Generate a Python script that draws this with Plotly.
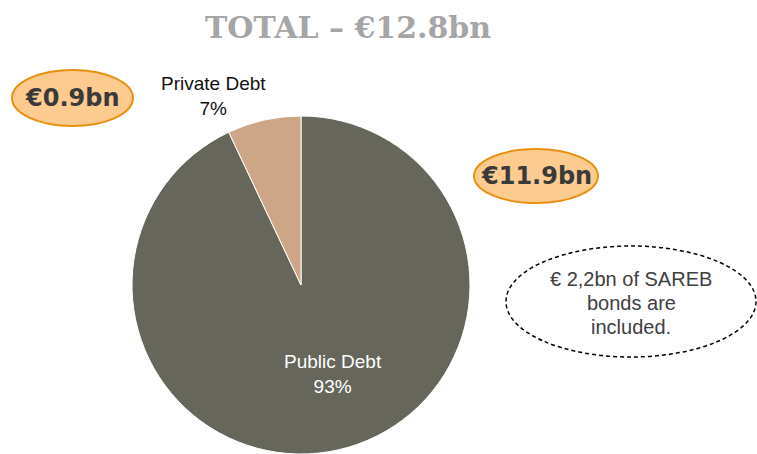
import plotly.graph_objects as go

W, H = 757, 454

# Data
categories = ["Public Debt", "Private Debt"]
values_bn = [11.9, 0.9]
total_bn = 12.8
percent_labels = ["93%", "7%"]
colors = ["#66665B", "#CDA587"]
note_lines = ["€ 2,2bn of SAREB", "bonds are", "included."]

def px(x):
    return x / W

def py(y):
    return 1 - y / H

fig = go.Figure()
fig.add_trace(go.Pie(
    labels=categories,
    values=values_bn,
    sort=False,
    direction="clockwise",
    rotation=0,
    textinfo="none",
    hoverinfo="label+percent",
    marker=dict(colors=colors, line=dict(color="white", width=1)),
    domain=dict(x=[px(132), px(470)], y=[0, py(116)]),
    showlegend=False,
))

shapes = [
    dict(type="circle", xref="paper", yref="paper",
         x0=px(12), x1=px(133), y0=py(126), y1=py(70),
         fillcolor="#FDCB8F", line=dict(color="#E8900F", width=2), layer="below"),
    dict(type="circle", xref="paper", yref="paper",
         x0=px(474), x1=px(598), y0=py(203), y1=py(149),
         fillcolor="#FDCB8F", line=dict(color="#E8900F", width=2), layer="below"),
    dict(type="circle", xref="paper", yref="paper",
         x0=px(506), x1=px(756), y0=py(357), y1=py(246),
         fillcolor="rgba(0,0,0,0)", line=dict(color="#000000", width=1.5, dash="4px,3px")),
]

lab_font = dict(family="Liberation Sans, Arial", size=19)
annotations = [
    dict(x=px(348), y=py(27), text=f"TOTAL – €{total_bn}bn", showarrow=False,
         xref="paper", yref="paper", xanchor="center", yanchor="middle",
         font=dict(family="DejaVu Serif", size=30, color="#A6A6A6", weight="bold")),
    dict(x=px(213), y=py(96), text=f"{categories[1]}<br>{percent_labels[1]}", showarrow=False,
         xref="paper", yref="paper", xanchor="center", yanchor="middle",
         font=dict(color="#111111", **lab_font)),
    dict(x=px(333), y=py(374), text=f"{categories[0]}<br>{percent_labels[0]}", showarrow=False,
         xref="paper", yref="paper", xanchor="center", yanchor="middle",
         font=dict(color="#FFFFFF", **lab_font)),
    dict(x=px(72), y=py(98), text=f"€{values_bn[1]}bn", showarrow=False,
         xref="paper", yref="paper", xanchor="center", yanchor="middle",
         font=dict(family="DejaVu Sans", size=24, color="#3A3A3A", weight="bold")),
    dict(x=px(536), y=py(176), text=f"€{values_bn[0]}bn", showarrow=False,
         xref="paper", yref="paper", xanchor="center", yanchor="middle",
         font=dict(family="DejaVu Sans", size=24, color="#3A3A3A", weight="bold")),
]
for i, line in enumerate(note_lines):
    annotations.append(dict(
        x=px(631), y=py(279 + 24 * i), text=line, showarrow=False,
        xref="paper", yref="paper", xanchor="center", yanchor="middle",
        font=dict(family="Liberation Sans, Arial", size=20, color="#404040")))

fig.update_layout(
    width=W, height=H,
    margin=dict(l=0, r=0, t=0, b=0),
    paper_bgcolor="white", plot_bgcolor="white",
    shapes=shapes, annotations=annotations,
)

fig.write_html("out.html", config={"displayModeBar": False},
               post_script="document.body.style.margin='0';")
